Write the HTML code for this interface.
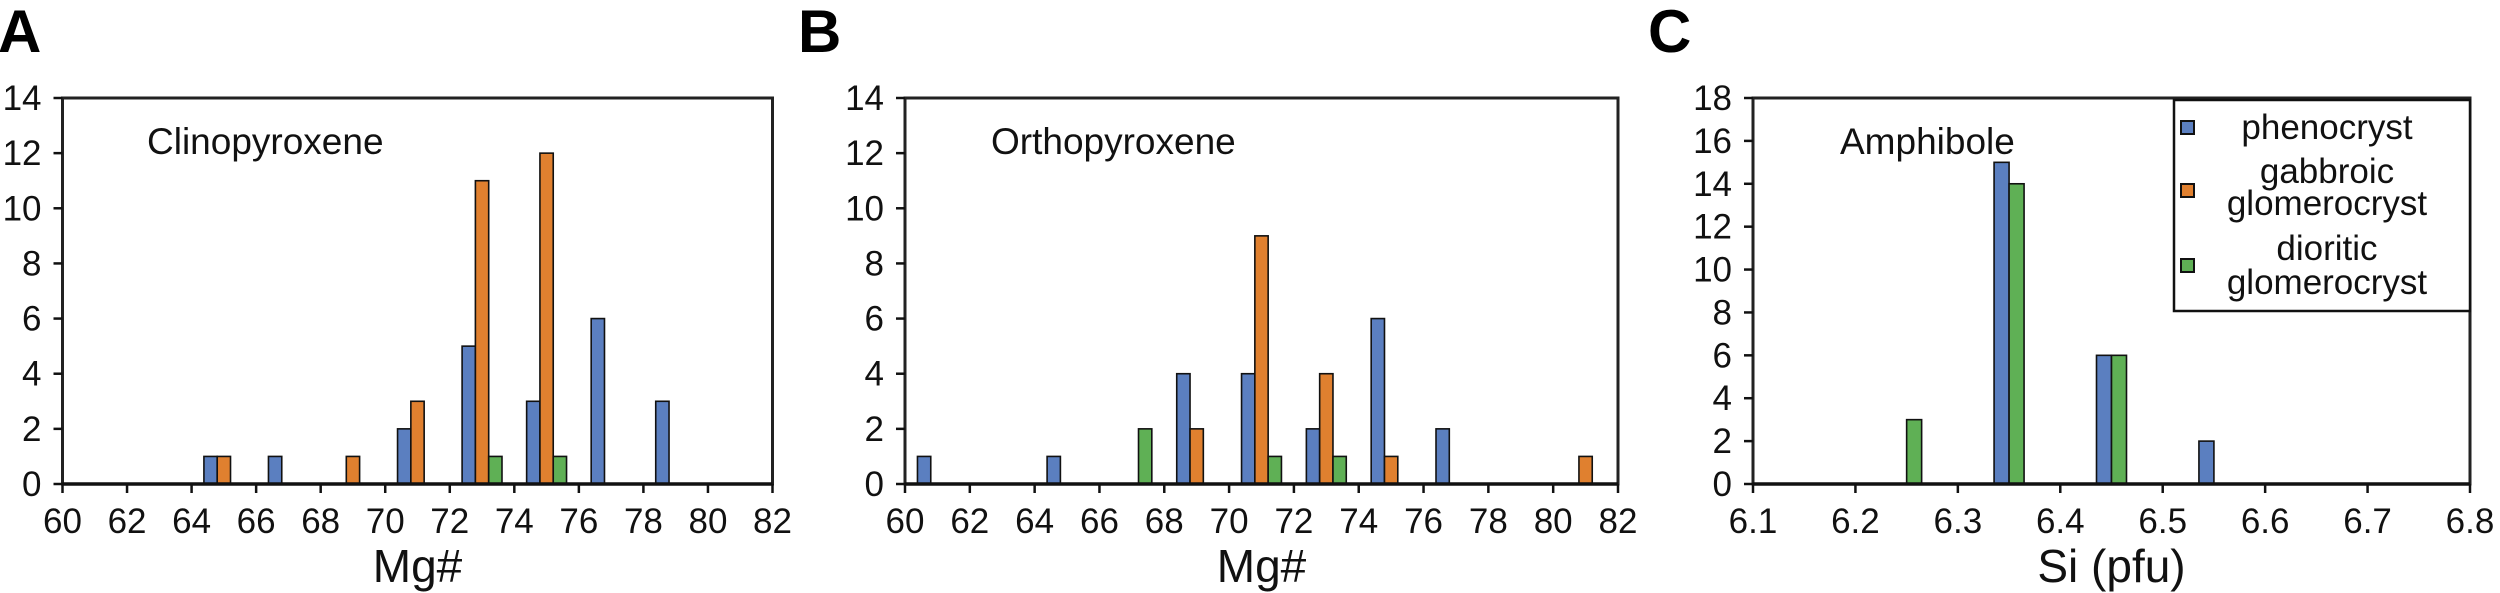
<!DOCTYPE html>
<html><head><meta charset="utf-8"><style>
html,body{margin:0;padding:0;background:#fff;}
svg{display:block;font-family:"Liberation Sans Narrow","Liberation Sans",sans-serif;}
</style></head><body>
<svg id="chart" width="2500" height="593" viewBox="0 0 2500 593" xmlns="http://www.w3.org/2000/svg">
<g id="root"></g>
</svg>
<script>
const mgCategories = [60,62,64,66,68,70,72,74,76,78,80];
const cpxPheno = [0,0,1,1,0,2,5,3,6,3,0];
const cpxGabbro = [0,0,1,0,1,3,11,12,0,0,0];
const cpxDiorite = [0,0,0,0,0,0,1,1,0,0,0];
const opxPheno = [1,0,1,0,4,4,2,6,2,0,0];
const opxGabbro = [0,0,0,0,2,9,4,1,0,0,1];
const opxDiorite = [0,0,0,2,0,1,1,0,0,0,0];
const siCategories = [6.1,6.2,6.3,6.4,6.5,6.6,6.7];
const amphPheno = [0,0,15,6,2,0,0];
const amphDiorite = [0,3,14,6,0,0,0];
const mgTicks = ["60","62","64","66","68","70","72","74","76","78","80","82"];
const siTicks = ["6.1","6.2","6.3","6.4","6.5","6.6","6.7","6.8"];
const mgYTicks = [0,2,4,6,8,10,12,14];
const siYTicks = [0,2,4,6,8,10,12,14,16,18];

const COL = {blue:"#5b7fc0", orange:"#e0802f", green:"#5fb055"};
const NS = "http://www.w3.org/2000/svg";
const root = document.getElementById('root');
function mk(tag, attrs, parent){const e=document.createElementNS(NS,tag);for(const k in attrs)e.setAttribute(k,attrs[k]);(parent||root).appendChild(e);return e;}

function panel(opt){
  const g = mk('g',{});
  
  
  const x0=opt.x0,x1=opt.x1,y0=98,y1=484;
  const nBins = opt.xTicks.length-1;
  const binW=(x1-x0)/nBins;
  const yMax=opt.yTicks[opt.yTicks.length-1];
  const yS=v=>y1-(v/yMax)*(y1-y0);
  const xS=i=>x0+i*binW;
  const frame = mk('rect',{x:x0,y:y0,width:x1-x0,height:y1-y0,fill:'#fff',stroke:'#222','stroke-width':3},g);
  
  
  // bars
  const series=opt.series;
  const nS=opt.slots;
  const bw=opt.barW;
  series.forEach((s)=>{
    s.values.forEach((v,i)=>{
      if(!v)return;
      const cx=xS(i)+binW/2;
      const left=cx - nS*bw/2 + s.slot*bw;
      const r=mk('rect',{x:left,y:yS(v),width:bw,height:yS(0)-yS(v),fill:s.color,stroke:'#111','stroke-width':1.6},g);
      
      
    });
  });
  mk('line',{x1:x0,y1:y1,x2:x1,y2:y1,stroke:'#111','stroke-width':3.5},g);
  // x ticks
  opt.xTicks.forEach((t,i)=>{
    mk('line',{x1:xS(i),y1:y1,x2:xS(i),y2:y1+9,stroke:'#111','stroke-width':2.5},g);
    const tx=mk('text',{x:xS(i),y:533,'font-size':35,'text-anchor':'middle',fill:'#111'},g);
    tx.textContent=t;
    
    
  });
  opt.yTicks.forEach(v=>{
    mk('line',{x1:x0-9,y1:yS(v),x2:x0,y2:yS(v),stroke:'#111','stroke-width':2.5},g);
    const ty=mk('text',{x:x0-21,y:yS(v)+12,'font-size':35,'text-anchor':'end',fill:'#111'},g);
    ty.textContent=v;
    
    
  });
  const xt=mk('text',{x:(x0+x1)/2,y:582,'font-size':46,'text-anchor':'middle',fill:'#111'},g);
  xt.textContent=opt.xTitle;
  
  
  const tt=mk('text',{x:opt.titleX,y:154,'font-size':37,fill:'#111'},g);
  tt.textContent=opt.title;
  
  
  const pl=mk('text',{x:opt.labelX,y:52,'font-size':60,'font-weight':'bold','font-family':'Liberation Sans, sans-serif',fill:'#000'},g);
  pl.textContent=opt.label;
  
  
}

panel({name:'panel-a-clinopyroxene',x0:62.5,x1:772.5,xTicks:mgTicks,yTicks:mgYTicks,slots:3,barW:13.3,
  series:[{key:'phenocryst',values:cpxPheno,color:COL.blue,slot:0},{key:'gabbroic',values:cpxGabbro,color:COL.orange,slot:1},{key:'dioritic',values:cpxDiorite,color:COL.green,slot:2}],
  xTitle:'Mg#',title:'Clinopyroxene',titleX:147,label:'A',labelX:-2});
panel({name:'panel-b-orthopyroxene',x0:905,x1:1618,xTicks:mgTicks,yTicks:mgYTicks,slots:3,barW:13.3,
  series:[{key:'phenocryst',values:opxPheno,color:COL.blue,slot:0},{key:'gabbroic',values:opxGabbro,color:COL.orange,slot:1},{key:'dioritic',values:opxDiorite,color:COL.green,slot:2}],
  xTitle:'Mg#',title:'Orthopyroxene',titleX:991,label:'B',labelX:798});
panel({name:'panel-c-amphibole',x0:1753,x1:2470,xTicks:siTicks,yTicks:siYTicks,slots:2,barW:15,
  series:[{key:'phenocryst',values:amphPheno,color:COL.blue,slot:0},{key:'dioritic',values:amphDiorite,color:COL.green,slot:1}],
  xTitle:'Si (pfu)',title:'Amphibole',titleX:1840,label:'C',labelX:1648});

// legend
const lg=mk('g',{});


mk('rect',{x:2174,y:100,width:296,height:211,fill:'#fff',stroke:'#111','stroke-width':2.5},lg);
const legendItems=[{c:COL.blue,py:128,lines:[['phenocryst',139]]},{c:COL.orange,py:191,lines:[['gabbroic',183],['glomerocryst',215]]},{c:COL.green,py:266,lines:[['dioritic',260],['glomerocryst',294]]}];
legendItems.forEach(it=>{
  const e=mk('g',{},lg);
  
  
  mk('rect',{x:2181,y:it.py-7,width:13,height:13,fill:it.c,stroke:'#111','stroke-width':2},e);
  it.lines.forEach(l=>{const t=mk('text',{x:2327,y:l[1],'font-size':35,'text-anchor':'middle',fill:'#111'},e);t.textContent=l[0];});
});
</script>
</body></html>
